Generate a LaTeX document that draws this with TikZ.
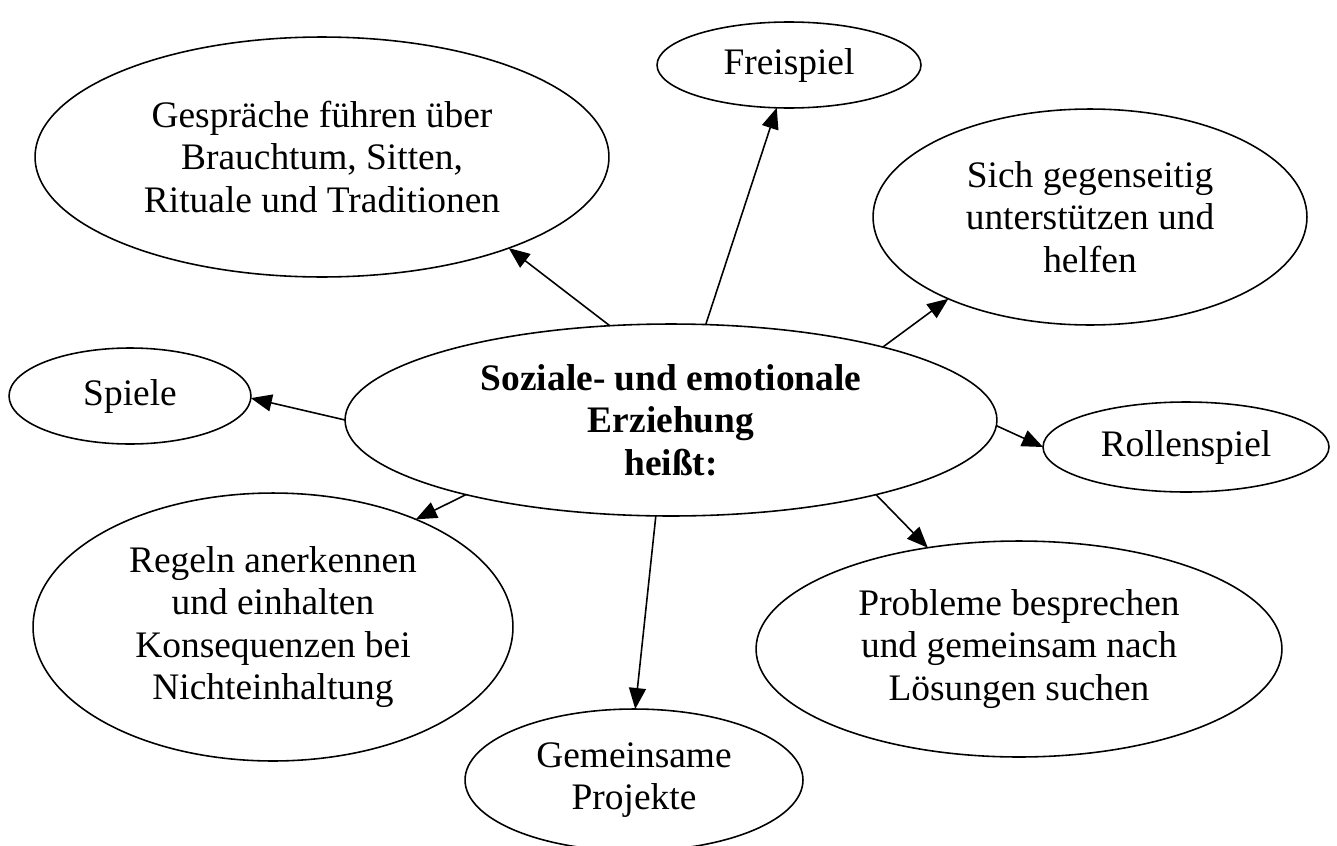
\documentclass[tikz,border=0pt]{standalone}
\usepackage{fontspec}
\setmainfont{Liberation Serif}
\usepackage{tikz}
\usetikzlibrary{shapes.geometric, arrows.meta}

\begin{document}
\begin{tikzpicture}[x=0.02cm, y=-0.02cm,
        bubble/.style={draw, ellipse, line width=0.9pt, inner sep=0pt, outer sep=0pt,
            align=center, font=\fontsize{21.3pt}{24.2pt}\selectfont},
        link/.style={-{Triangle[length=0.42cm, width=0.34cm]}, line width=0.9pt}]
        \useasboundingbox (0, 0) rectangle (1337, 845);

        \node[bubble, font=\fontsize{21.3pt}{24.2pt}\selectfont\bfseries,
            minimum width=13.04cm, minimum height=3.84cm] (mid) at (671, 420)
            {Soziale- und emotionale\\Erziehung\\heißt:};

        \node[bubble, minimum width=11.48cm, minimum height=4.8cm] (gespraeche) at (322, 157)
            {Gespräche führen über\\Brauchtum, Sitten,\\Rituale und Traditionen};
        \node[bubble, minimum width=5.28cm, minimum height=1.72cm] (freispiel) at (789, 65) {Freispiel};
        \node[bubble, minimum width=8.68cm, minimum height=4.32cm] (helfen) at (1090, 217)
            {Sich gegenseitig\\unterstützen und\\helfen};
        \node[bubble, minimum width=4.84cm, minimum height=1.92cm] (spiele) at (130, 396) {Spiele};
        \node[bubble, minimum width=5.72cm, minimum height=1.8cm] (rollenspiel) at (1186, 447) {Rollenspiel};
        \node[bubble, minimum width=9.6cm, minimum height=5.36cm] (regeln) at (273, 627)
            {Regeln anerkennen\\und einhalten\\Konsequenzen bei\\Nichteinhaltung};
        \node[bubble, minimum width=10.52cm, minimum height=4.32cm] (probleme) at (1019, 649)
            {Probleme besprechen\\und gemeinsam nach\\Lösungen suchen};
        \node[bubble, minimum width=6.76cm, minimum height=2.84cm] (projekte) at (634, 780)
            {Gemeinsame\\Projekte};

        % arrows from the middle
        \draw[link] (mid.123) -- (gespraeche.-26);
        \draw[link] (mid.70) -- (freispiel.-106);
        \draw[link] (mid.19) -- (helfen.-150);
        \draw[link] (mid.180) -- (spiele.-1);
        \draw[link] (mid.-1) -- (rollenspiel.180);
        \draw[link] (mid.-160) -- (regeln.37);
        \draw[link] (mid.-99) -- (projekte.89);
        \draw[link] (mid.-20) -- (probleme.132);
\end{tikzpicture}
\end{document}
